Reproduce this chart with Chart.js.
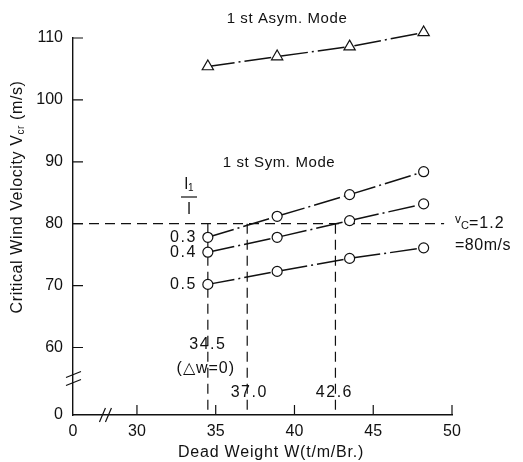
<!DOCTYPE html>
<html>
<head>
<meta charset="utf-8">
<style>
  html, body { margin: 0; padding: 0; background: #fff; }
  canvas { display: block; }
</style>
<script src="https://cdn.jsdelivr.net/npm/chart.js@4.4.1/dist/chart.umd.min.js"></script>
</head>
<body>
<canvas id="chart" width="523" height="462" style="width:523px;height:462px"></canvas>
<script>
// Values
const weights = [34.5, 38.9, 43.5, 48.2];
const asymMode = [105.4, 107.0, 108.6, 110.9];
const sym03 = [77.8, 81.2, 84.7, 88.4];
const sym04 = [75.4, 77.8, 80.5, 83.2];
const sym05 = [70.2, 72.3, 74.4, 76.1];
const ratioLabels = ['0.3', '0.4', '0.5'];
const xTicks = [30, 35, 40, 45, 50];
const yTicks = [60, 70, 80, 90, 100, 110];
const criticalVelocity = 80;
const crossWeights = [34.5, 37.0, 42.6];
const crossLabels = ['34.5', '37.0', '42.6'];
const refLineEnd = 49.5;

// broken axes: the left / bottom end of each axis is labelled "0"
const xMin = 25.94;
const yMin = 49.1;

const FONT = '"Liberation Sans", Arial, sans-serif';
const INK = '#111';

const toPoints = (vals) => weights.map((w, i) => ({x: w, y: vals[i]}));

function seriesDataset(vals, style, radius) {
    return {
        data: toPoints(vals),
        showLine: true,
        borderColor: INK,
        borderWidth: 1.5,
        borderDash: [27, 4, 2, 4],
        pointStyle: style,
        pointRadius: radius,
        pointBackgroundColor: '#fff',
        pointBorderColor: INK,
        pointBorderWidth: 1.2,
        clip: false
    };
}

function refDataset(points) {
    return {
        data: points,
        showLine: true,
        borderColor: INK,
        borderWidth: 1.2,
        borderDash: [10, 6],
        pointRadius: 0,
        clip: false
    };
}

// text helpers
function measure(ctx, parts) {
    let w = 0;
    parts.forEach(p => {
        ctx.font = p.size + 'px ' + FONT;
        ctx.letterSpacing = (p.ls || 0) + 'px';
        w += ctx.measureText(p.t).width;
    });
    return w;
}

function drawRuns(ctx, parts, x, y, align) {
    let cx = x;
    if (align === 'center') cx = x - measure(ctx, parts) / 2;
    parts.forEach(p => {
        ctx.font = p.size + 'px ' + FONT;
        ctx.letterSpacing = (p.ls || 0) + 'px';
        ctx.textAlign = 'left';
        ctx.textBaseline = 'middle';
        ctx.fillText(p.t, cx, y + (p.dy || 0));
        cx += ctx.measureText(p.t).width;
    });
}

function text(ctx, s, x, y, size, align, ls) {
    drawRuns(ctx, [{t: s, size: size, ls: ls}], x, y, align);
}

const decorations = {
    id: 'decorations',
    afterDraw(chart) {
        const {ctx, scales: {x, y}} = chart;
        ctx.save();
        ctx.strokeStyle = INK;
        ctx.fillStyle = INK;
        ctx.lineWidth = 1.2;

        // tick marks pointing into the plot
        ctx.beginPath();
        yTicks.forEach(v => {
            const p = y.getPixelForValue(v);
            ctx.moveTo(x.left, p);
            ctx.lineTo(x.left + 10, p);
        });
        xTicks.forEach(v => {
            const p = x.getPixelForValue(v);
            ctx.moveTo(p, y.bottom);
            ctx.lineTo(p, y.bottom - 10);
        });
        ctx.stroke();

        // axis break marks
        ctx.beginPath();
        const by = y.getPixelForValue(55);
        [-4, 4].forEach(d => {
            ctx.moveTo(x.left - 7, by + d + 3);
            ctx.lineTo(x.left + 8, by + d - 3);
        });
        const bx = x.getPixelForValue(28);
        [-3, 3].forEach(d => {
            ctx.moveTo(bx + d - 3, y.bottom + 7);
            ctx.lineTo(bx + d + 3, y.bottom - 7);
        });
        ctx.stroke();

        // mode labels
        text(ctx, '1 st Asym. Mode', 287, 19, 15, 'center', 0.6);
        text(ctx, '1 st Sym. Mode', 279, 163, 15, 'center', 0.6);

        // l1 / l fraction
        drawRuns(ctx, [{t: 'l', size: 16}, {t: '1', size: 10, dy: 3}], 189, 185, 'center');
        ctx.beginPath();
        ctx.moveTo(181, 197);
        ctx.lineTo(197, 197);
        ctx.stroke();
        text(ctx, 'l', 189, 210, 16, 'center');

        // ratio labels next to the first column of circles
        const lx = x.getPixelForValue(weights[0]) - 11;
        [sym03, sym04, sym05].forEach((vals, i) => {
            const py = y.getPixelForValue(vals[0]);
            const w = measure(ctx, [{t: ratioLabels[i], size: 16, ls: 1.5}]);
            text(ctx, ratioLabels[i], lx - w, py, 16, 'left', 1.5);
        });

        // critical velocity note
        drawRuns(ctx, [
            {t: 'v', size: 12, dy: -4},
            {t: 'C', size: 11, dy: 2},
            {t: '=1.2', size: 16, ls: 1}
        ], 455, 224, 'left');
        text(ctx, '=80m/s', 455, 246, 16, 'left', 0.5);

        // crossing weights
        text(ctx, crossLabels[0], x.getPixelForValue(crossWeights[0]), 345, 16, 'center', 1.5);
        text(ctx, '(\u25B3w=0)', x.getPixelForValue(crossWeights[0]) - 2, 369, 16, 'center', 1);
        text(ctx, crossLabels[1], x.getPixelForValue(crossWeights[1]) + 2, 393, 16, 'center', 1.5);
        text(ctx, crossLabels[2], x.getPixelForValue(crossWeights[2]) - 1, 393, 16, 'center', 1.5);

        // axis titles
        text(ctx, 'Dead Weight W(t/m/Br.)', 271, 453, 16, 'center', 0.8);
        ctx.translate(18, 197);
        ctx.rotate(-Math.PI / 2);
        drawRuns(ctx, [
            {t: 'Critical Wind Velocity V', size: 16, ls: 0.6},
            {t: 'cr', size: 10, dy: 3, ls: 0.6},
            {t: ' (m/s)', size: 16, ls: 0.6}
        ], 0, 0, 'center');
        ctx.restore();
    }
};

const datasets = [
    seriesDataset(asymMode, 'triangle', 6.5),
    seriesDataset(sym03, 'circle', 5),
    seriesDataset(sym04, 'circle', 5),
    seriesDataset(sym05, 'circle', 5),
    refDataset([{x: xMin, y: criticalVelocity}, {x: refLineEnd, y: criticalVelocity}]),
    ...crossWeights.map(w => refDataset([{x: w, y: criticalVelocity}, {x: w, y: yMin}]))
];

new Chart(document.getElementById('chart'), {
    type: 'scatter',
    data: { datasets: datasets },
    plugins: [decorations],
    options: {
        responsive: false,
        animation: false,
        events: [],
        layout: { padding: { left: 0, right: 71, top: 38, bottom: 0 } },
        plugins: { legend: { display: false }, tooltip: { enabled: false } },
        scales: {
            x: {
                type: 'linear',
                min: xMin,
                max: 50,
                afterBuildTicks: s => { s.ticks = [xMin, ...xTicks].map(v => ({value: v})); },
                afterFit: s => { s.height = 47; },
                grid: { display: false, drawTicks: false },
                border: { display: true, color: INK, width: 1.4 },
                ticks: {
                    autoSkip: false,
                    maxRotation: 0,
                    padding: 7,
                    color: INK,
                    font: { family: FONT, size: 16 },
                    callback: v => v === xMin ? '0' : String(v)
                }
            },
            y: {
                type: 'linear',
                min: yMin,
                max: 110,
                afterBuildTicks: s => { s.ticks = [yMin, ...yTicks].map(v => ({value: v})); },
                afterFit: s => { s.width = 73; },
                grid: { display: false, drawTicks: false },
                border: { display: true, color: INK, width: 1.4 },
                ticks: {
                    autoSkip: false,
                    padding: 10,
                    color: INK,
                    font: { family: FONT, size: 16 },
                    callback: v => v === yMin ? '0' : String(v)
                }
            }
        }
    }
});
</script>
</body>
</html>
